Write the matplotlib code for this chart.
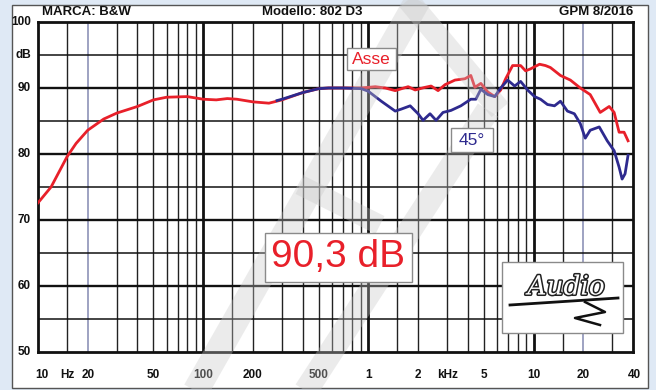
import matplotlib
matplotlib.use('Agg')
import matplotlib.pyplot as plt
from matplotlib.patches import Rectangle
from matplotlib.lines import Line2D
import matplotlib.patheffects as pe
import matplotlib.transforms as mtransforms

# ---------------- data ----------------
freq_asse = [10, 12, 15, 17, 20, 25, 30, 40, 50, 60, 80, 100, 120, 140, 160, 200, 250, 300,
             400, 500, 574, 707, 907, 1102, 1266, 1454, 1742, 1920, 2204, 2398, 2642, 2911,
             3344, 3841, 4171, 4413, 4797, 5284, 5822, 6325, 6778, 7468, 8351, 8950, 9592,
             10870, 11810, 12650, 14550, 16710, 19190, 22030, 25330, 28700, 30750, 32960,
             35320, 37330]
db_asse = [72.6, 75.0, 79.6, 81.6, 83.6, 85.3, 86.2, 87.2, 88.2, 88.6, 88.7, 88.3, 88.2, 88.4,
           88.3, 87.9, 87.7, 88.2, 89.3, 89.9, 90.0, 90.0, 90.0, 90.2, 90.0, 89.6, 90.2, 89.7,
           90.1, 90.3, 89.6, 90.5, 91.2, 91.4, 91.9, 90.1, 90.7, 89.4, 88.7, 89.7, 91.4, 93.4,
           93.4, 92.6, 92.9, 93.6, 93.4, 93.1, 91.9, 91.2, 90.0, 89.0, 86.3, 87.2, 86.3, 83.3,
           83.3, 82.0]

freq_45 = [280, 300, 400, 500, 574, 707, 907, 1000, 1197, 1454, 1581, 1791, 2000, 2143, 2362,
           2570, 2831, 3162, 3632, 4171, 4476, 4797, 5284, 5822, 6325, 6970, 7684, 8351, 9200,
           10140, 11020, 12140, 13390, 14550, 16030, 17660, 19190, 20560, 22030, 24990, 27920,
           30750, 32960, 34360, 35810, 37330]
db_45 = [88.1, 88.3, 89.3, 89.9, 90.0, 90.0, 89.9, 89.5, 88.0, 86.5, 86.8, 87.3, 86.1, 85.1,
         86.1, 85.1, 86.3, 86.6, 87.3, 88.3, 88.3, 89.8, 89.0, 88.7, 90.0, 91.2, 90.3, 91.0,
         89.7, 88.7, 88.3, 87.5, 87.3, 88.0, 86.5, 86.1, 84.6, 82.4, 83.6, 84.1, 82.0, 80.5,
         78.0, 76.2, 77.0, 79.8]

y_ticks = [100, 90, 80, 70, 60, 50]
y_ticklabels = ['100', '90', '80', '70', '60', '50']
x_ticks = [10, 15, 20, 50, 100, 200, 500, 1000, 2000, 3000, 5000, 10000, 20000, 40000]
x_ticklabels = ['10', 'Hz', '20', '50', '100', '200', '500', '1', '2', 'kHz', '5', '10', '20', '40']

title_left = 'MARCA: B&W'
title_mid = 'Modello: 802 D3'
title_right = 'GPM 8/2016'
sensitivity = '90,3 dB'

RED = '#e8202a'
NAVY = '#2e2a8e'
W, H = 656, 390

plt.rcParams['font.family'] = ['Liberation Sans', 'DejaVu Sans']

fig = plt.figure(figsize=(W / 100, H / 100), dpi=100)
fig.patch.set_facecolor('#dfe9f5')

def fx(px):
    return px / W

def fy(py):
    return 1 - py / H

# white panel
fig.patches.append(Rectangle((fx(12), fy(388)), fx(648) - fx(12), fy(5) - fy(388),
                             transform=fig.transFigure, facecolor='white',
                             edgecolor='#555555', lw=1.0, zorder=-5))

ax = fig.add_axes([fx(38), fy(352), fx(633) - fx(38), fy(22) - fy(352)])
ax.set_zorder(1)
ax.set_xscale('log')
ax.set_xlim(10, 40000)
ax.set_ylim(50, 100)
ax.set_facecolor('none')
for s in ax.spines.values():
    s.set_linewidth(2.0)
    s.set_color('#111111')
ax.set_xticks([])
ax.set_yticks([])
ax.minorticks_off()

# grid
grid_f = []
for dec in [10, 100, 1000, 10000]:
    for m in [1, 1.5, 2, 3, 4, 5, 6, 7, 8, 9]:
        v = dec * m
        if v < 40000:
            grid_f.append(v)
for v in grid_f:
    if v in (100, 1000, 10000):
        ax.axvline(v, color='#111111', lw=2.0, zorder=1)
    elif v in (20, 20000):
        ax.axvline(v, color='#8e92b8', lw=1.2, zorder=1)
    elif v != 10:
        ax.axvline(v, color='#222222', lw=1.0, zorder=1)
for d in range(55, 100, 5):
    ax.axhline(d, color='#111111', lw=1.7 if d % 10 == 0 else 1.1, zorder=1)

# curves
ax.plot(freq_asse, db_asse, color=RED, lw=2.0, zorder=3, solid_joinstyle='round')
ax.plot(freq_45, db_45, color=NAVY, lw=2.0, zorder=4, solid_joinstyle='round')

# tick labels
for v, lab in zip(y_ticks, y_ticklabels):
    ax.text(-0.012, (v - 50) / 50, lab, transform=ax.transAxes, ha='right', va='center',
            fontsize=8.5, fontweight='bold', color='#111111')
ax.text(-0.012, 0.9, 'dB', transform=ax.transAxes, ha='right', va='center',
        fontsize=8.5, fontweight='bold', color='#111111')
trans = mtransforms.blended_transform_factory(ax.transData, fig.transFigure)
for v, lab in zip(x_ticks, x_ticklabels):
    xx = v * 1.05 if v == 10 else v
    if v == 40000:
        xx = 41000
    ax.text(xx, fy(375), lab, transform=trans, ha='center', va='center',
            fontsize=8.5, fontweight='bold', color='#111111', clip_on=False)

# titles
fig.text(fx(42), fy(12), title_left, ha='left', va='center', fontsize=9.5, fontweight='bold', color='#111111')
fig.text(fx(312), fy(12), title_mid, ha='center', va='center', fontsize=9.5, fontweight='bold', color='#111111')
fig.text(fx(633), fy(12), title_right, ha='right', va='center', fontsize=9.5, fontweight='bold', color='#111111')

# watermark (semi-transparent overlay)
def band(p1, p2, wpx):
    ln = Line2D([fx(p1[0]), fx(p2[0])], [fy(p1[1]), fy(p2[1])], transform=fig.transFigure,
                color='#c8c8c8', alpha=0.35, lw=wpx * 0.72, solid_capstyle='butt', zorder=5)
    fig.lines.append(ln)

band((195, 392), (418, 0), 26)
band((305, 392), (488, 110), 24)
band((408, 0), (500, 110), 22)
band((300, 185), (380, 225), 20)

# labelled boxes
def boxed(xc, yc, w, h, txt, col, size):
    fig.patches.append(Rectangle((fx(xc - w / 2), fy(yc + h / 2)), w / W, h / H,
                                 transform=fig.transFigure, facecolor='white',
                                 edgecolor='#8a8a8a', lw=1.0, zorder=10))
    fig.text(fx(xc), fy(yc), txt, ha='center', va='center', fontsize=size, color=col, zorder=11)

boxed(371, 59, 49, 22, 'Asse', RED, 12.5)
boxed(472, 140, 42, 24, '45°', NAVY, 12.5)
boxed(338, 257, 147, 49, sensitivity, RED, 28)

# logo box
fig.patches.append(Rectangle((fx(502), fy(333)), 121 / W, 71 / H, transform=fig.transFigure,
                             facecolor='white', edgecolor='#8a8a8a', lw=1.0, zorder=10))
fig.text(fx(566), fy(287), 'Audio', ha='center', va='center', fontsize=19, style='italic',
         family='DejaVu Serif', color='white', zorder=12,
         path_effects=[pe.withStroke(linewidth=2.2, foreground='#222222')])
fig.lines.append(Line2D([fx(510), fx(618)], [fy(305), fy(298)], transform=fig.transFigure,
                        color='#111111', lw=2.0, zorder=12))
fig.lines.append(Line2D([fx(585), fx(605), fx(575), fx(600)], [fy(302), fy(312), fy(318), fy(325)],
                        transform=fig.transFigure, color='#111111', lw=1.8, zorder=12))

fig.savefig('out.png', dpi=100, facecolor=fig.get_facecolor())
